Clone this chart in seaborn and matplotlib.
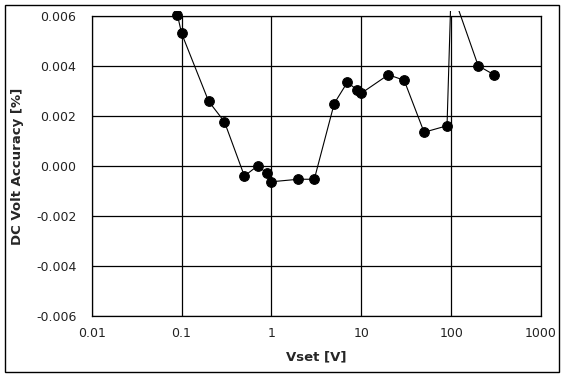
import numpy as np
import seaborn as sns
import pandas as pd
import matplotlib.pyplot as plt
from matplotlib.patches import Rectangle
from matplotlib.transforms import Bbox, TransformedBbox

# data
vset = [0.09, 0.1, 0.2, 0.3, 0.5, 0.7, 0.9, 1, 2, 3, 5, 7, 9, 10,
        20, 30, 50, 90, 100, 200, 300]
accuracy = [0.00604, 0.00531, 0.00259, 0.00177, -0.00040, 0.0, -0.00029, -0.00063,
            -0.00053, -0.00053, 0.00250, 0.00335, 0.00304, 0.00291,
            0.00365, 0.00343, 0.00135, 0.00161, 0.0071, 0.00401, 0.00365]
yticks = [-0.006, -0.004, -0.002, 0.0, 0.002, 0.004, 0.006]
xticks = [0.01, 0.1, 1, 10, 100, 1000]
xticklabels = ['0.01', '0.1', '1', '10', '100', '1000']

df = pd.DataFrame({'Vset': vset, 'Accuracy': accuracy})

sns.set_style('white')
plt.rcParams['font.family'] = ['DejaVu Sans']

fig = plt.figure(figsize=(5.68, 3.78), dpi=100)
ax = fig.add_axes([91.7 / 568, 1 - 316 / 378, 449.3 / 568, 300 / 378])

sns.lineplot(data=df, x='Vset', y='Accuracy', ax=ax, color='black', linewidth=0.8,
             marker='o', markersize=7, markeredgecolor='black', markerfacecolor='black')

# Excel-like clipping: slightly larger than the plot area
line = ax.lines[0]
line.set_clip_box(TransformedBbox(Bbox([[0, -0.02], [1, 1.017]]), ax.transAxes))

ax.set_xscale('log')
ax.set_xlim(0.01, 1000)
ax.set_ylim(-0.006, 0.006)
ax.set_xticks(xticks)
ax.set_xticklabels(xticklabels)
ax.set_yticks(yticks)
ax.set_yticklabels(['%.3f' % v for v in yticks])
ax.minorticks_off()
ax.tick_params(axis='both', length=0, labelsize=9, colors='#222222')
ax.tick_params(axis='y', pad=11)
ax.tick_params(axis='x', pad=8)
ax.grid(True, color='black', linewidth=0.9)
for s in ax.spines.values():
    s.set_color('black')
    s.set_linewidth(0.9)

ax.set_xlabel('Vset [V]', fontsize=9.5, fontweight='bold')
ax.set_ylabel('DC Volt Accuracy [%]', fontsize=9.5, fontweight='bold')
ax.xaxis.set_label_coords(0.5, -0.115)
ax.yaxis.set_label_coords(-0.15, 0.5)

# outer chart border
fig.patches.append(Rectangle((5 / 568, 1 - 372 / 378), 554 / 568, 367 / 378,
                             transform=fig.transFigure, fill=False,
                             edgecolor='black', linewidth=1.0))

fig.savefig('out.png', dpi=100)
